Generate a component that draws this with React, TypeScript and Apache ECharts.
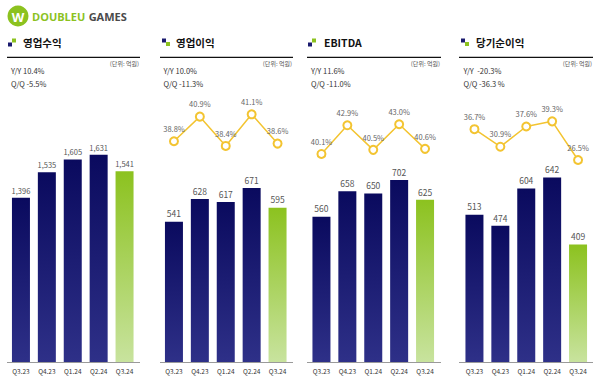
import React, { useEffect, useRef } from "react";
import * as echarts from "echarts";

const quarters = ["Q3.23", "Q4.23", "Q1.24", "Q2.24", "Q3.24"];
const revenue = [1396, 1535, 1605, 1631, 1541];
const opProfit = [541, 628, 617, 671, 595];
const opMargin = [38.8, 40.9, 38.4, 41.1, 38.6];
const ebitda = [560, 658, 650, 702, 625];
const ebitdaMargin = [40.1, 42.9, 40.5, 43.0, 40.6];
const netIncome = [513, 474, 604, 642, 409];
const netMargin = [36.7, 30.9, 37.6, 39.3, 26.5];
const panelTitles = ["영업수익", "영업이익", "EBITDA", "당기순이익"];
const yoyTexts = ["10.4%", "10.0%", "11.6%", " -20.3%"];
const qoqTexts = ["-5.5%", "-11.3%", "-11.0%", "-36.3 %"];
const unitText = "(단위: 억원)";

const FONT = "'Noto Sans CJK KR', 'Noto Sans', sans-serif";

export default function App() {
  const ref = useRef<HTMLDivElement>(null);
  useEffect(() => {
    if (!ref.current) return;
    const chart = echarts.init(ref.current, undefined, { renderer: "svg" });

    const barSets = [revenue, opProfit, ebitda, netIncome];
    const lineSets: (number[] | null)[] = [null, opMargin, ebitdaMargin, netMargin];
    const gridLeft = [8, 161, 308.5, 461.5];
    const gridW = 129.5;
    const barRange = [
      [500, 1930],
      [0, 1010],
      [0, 1010],
      [0, 912],
    ];
    const lineRange = [
      [0, 1],
      [37.2, 42.32],
      [39.51, 45.37],
      [26.5, 46.37],
    ];
    const ruleX = [
      [7, 140],
      [160, 293],
      [307, 441],
      [459, 593],
    ];
    const titleX = [23, 176, 324, 476];
    const infoX = [11, 163.5, 311, 463.5];
    const navyLow = [true, false, true, false];

    const navy = new echarts.graphic.LinearGradient(0, 0, 0, 1, [
      { offset: 0, color: "#0a0a5e" },
      { offset: 1, color: "#2e3088" },
    ]);
    const green = new echarts.graphic.LinearGradient(0, 0, 0, 1, [
      { offset: 0, color: "#8cc21f" },
      { offset: 1, color: "#c8e39e" },
    ]);

    const grid: any[] = [];
    const xAxis: any[] = [];
    const yAxis: any[] = [];
    const series: any[] = [];
    const graphic: any[] = [];

    for (let i = 0; i < 4; i++) {
      const gi = grid.length;
      grid.push({ left: gridLeft[i], width: gridW, top: 100, height: 262 });
      xAxis.push({
        type: "category",
        gridIndex: gi,
        data: quarters,
        axisLine: { show: false },
        axisTick: { show: false },
        axisLabel: { fontSize: 6.5, color: "#333", margin: 6, fontFamily: FONT, interval: 0 },
      });
      yAxis.push({
        type: "value",
        gridIndex: gi,
        min: barRange[i][0],
        max: barRange[i][1],
        show: false,
        splitLine: { show: false },
      });
      series.push({
        type: "bar",
        xAxisIndex: gi,
        yAxisIndex: gi,
        data: barSets[i],
        barWidth: 18,
        itemStyle: {
          color: (p: any) => (p.dataIndex === quarters.length - 1 ? green : navy),
        },
        label: {
          show: true,
          position: "top",
          distance: 4,
          fontSize: i === 0 ? 7.5 : 8.5,
          color: "#555",
          fontFamily: FONT,
          formatter: (p: any) => Number(p.value).toLocaleString("en-US"),
        },
      });
      const ls = lineSets[i];
      if (ls) {
        const li = grid.length;
        grid.push({ left: gridLeft[i], width: gridW, top: 100, height: 60 });
        xAxis.push({ type: "category", gridIndex: li, data: quarters, show: false });
        yAxis.push({
          type: "value",
          gridIndex: li,
          min: lineRange[i][0],
          max: lineRange[i][1],
          show: false,
          splitLine: { show: false },
        });
        series.push({
          type: "line",
          xAxisIndex: li,
          yAxisIndex: li,
          data: ls,
          symbol: "emptyCircle",
          symbolSize: 8,
          lineStyle: { color: "#f3c431", width: 1.5 },
          itemStyle: { color: "#f3c431", borderWidth: 1.5 },
          label: {
            show: true,
            position: "top",
            distance: 4,
            fontSize: 7.5,
            color: "#666",
            fontFamily: FONT,
            formatter: (p: any) => Number(p.value).toFixed(1) + "%",
          },
        });
      }

      // header
      const sx = ruleX[i][0] + 1;
      if (navyLow[i]) {
        graphic.push({ type: "rect", shape: { x: sx, y: 42.5, width: 4, height: 4 }, style: { fill: "#1a1a6e" } });
        graphic.push({ type: "rect", shape: { x: sx + 4, y: 38.5, width: 4, height: 4 }, style: { fill: "#8cc21f" } });
      } else {
        graphic.push({ type: "rect", shape: { x: sx + 1, y: 38.5, width: 4, height: 4 }, style: { fill: "#1a1a6e" } });
        graphic.push({ type: "rect", shape: { x: sx + 5, y: 42, width: 4, height: 4 }, style: { fill: "#8cc21f" } });
      }
      graphic.push({
        type: "text",
        x: titleX[i],
        y: 42.5,
        style: {
          text: panelTitles[i],
          fontSize: 10.5,
          fontWeight: "bold",
          fill: "#111",
          fontFamily: FONT,
          verticalAlign: "middle",
        },
      });
      graphic.push({
        type: "line",
        shape: { x1: ruleX[i][0], y1: 57.3, x2: ruleX[i][1], y2: 57.3 },
        style: { stroke: "#111", lineWidth: 1.3 },
      });
      graphic.push({
        type: "text",
        x: ruleX[i][1] - 1,
        y: 63.5,
        style: {
          text: unitText,
          fontSize: 6,
          fill: "#555",
          fontFamily: FONT,
          align: "right",
          verticalAlign: "middle",
        },
      });
      graphic.push({
        type: "text",
        x: infoX[i],
        y: 70.7,
        style: { text: "Y/Y " + yoyTexts[i], fontSize: 7.5, fill: "#333", fontFamily: FONT, verticalAlign: "middle" },
      });
      graphic.push({
        type: "text",
        x: infoX[i],
        y: 83.3,
        style: { text: "Q/Q " + qoqTexts[i], fontSize: 7.5, fill: "#333", fontFamily: FONT, verticalAlign: "middle" },
      });
      graphic.push({
        type: "line",
        shape: { x1: ruleX[i][0], y1: 362.5, x2: ruleX[i][1], y2: 362.5 },
        style: { stroke: "#9a9a9a", lineWidth: 1 },
      });
    }

    // logo
    graphic.push({ type: "circle", shape: { cx: 18, cy: 16, r: 10.5 }, style: { fill: "#8cc21f" } });
    graphic.push({
      type: "text",
      x: 18,
      y: 16.5,
      style: {
        text: "W",
        fontSize: 13,
        fontWeight: "bold",
        fill: "#fff",
        fontFamily: "'Open Sans', sans-serif",
        align: "center",
        verticalAlign: "middle",
      },
    });
    graphic.push({
      type: "text",
      x: 32,
      y: 16.5,
      style: {
        rich: {
          a: { fontSize: 11, fontWeight: "bold", fill: "#8cc21f", fontFamily: "'Open Sans', sans-serif" },
          b: { fontSize: 11, fontWeight: "bold", fill: "#4a4a4a", fontFamily: "'Open Sans', sans-serif" },
        },
        text: "{a|DOUBLEU} {b|GAMES}",
        verticalAlign: "middle",
      },
    });

    chart.setOption({
      animation: false,
      backgroundColor: "#fff",
      grid,
      xAxis,
      yAxis,
      series,
      graphic,
    });
    return () => chart.dispose();
  }, []);
  return <div ref={ref} style={{ position: "fixed", left: 0, top: 0, width: 600, height: 379 }} />;
}
